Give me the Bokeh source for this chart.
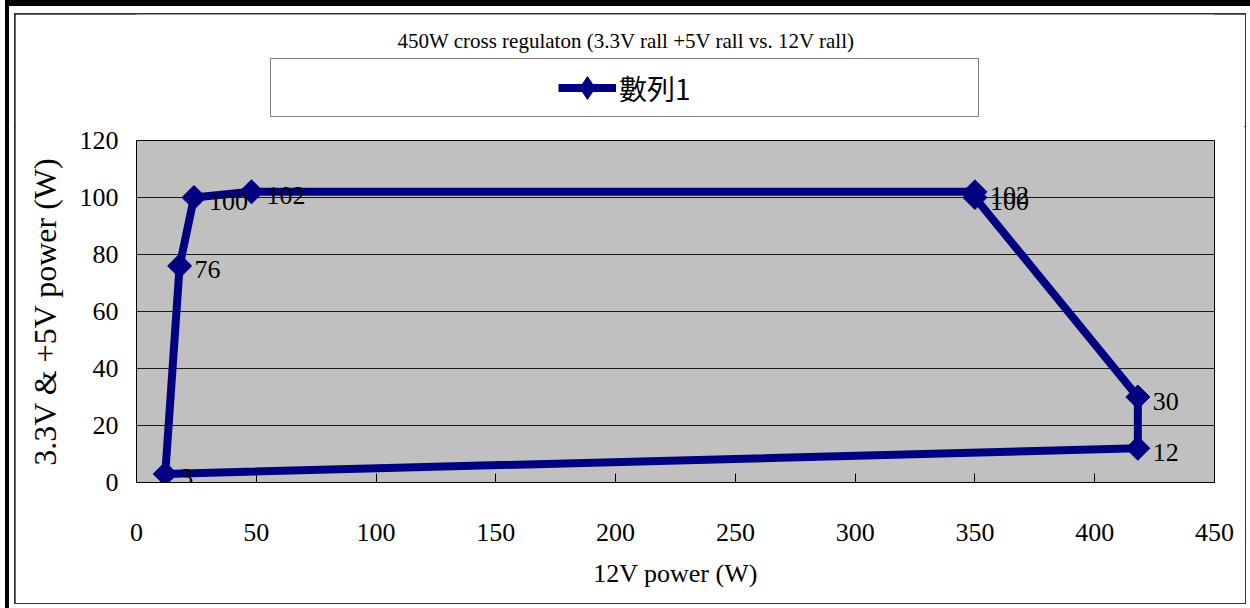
import math
from bokeh.plotting import figure
from bokeh.layouts import column
from bokeh.models import (ColumnDataSource, LabelSet, Label, Legend, LegendItem,
                          Range1d, FixedTicker)
from bokeh.embed import file_html
from bokeh.resources import INLINE

# ---- data ----
title_text = "450W cross regulaton (3.3V rall +5V rall vs. 12V rall)"
series_name = "數列1"
x_label = "12V power (W)"
y_label = "3.3V & +5V power (W)"
x_vals = [12, 18, 24, 48, 350, 350, 418, 418]
y_vals = [3, 76, 100, 102, 102, 100, 30, 12]
point_labels = ["3", "76", "100", "102", "102", "100", "30", "12"]
x_ticks = [0, 50, 100, 150, 200, 250, 300, 350, 400, 450]
y_ticks = [0, 20, 40, 60, 80, 100, 120]

NAVY = "#000080"
SERIF = "Liberation Serif"
LINE_STYLE = dict(line_color=NAVY, line_width=8, line_join="round")
MARK_STYLE = dict(marker="square", angle=math.pi / 4, size=17,
                  fill_color=NAVY, line_color=NAVY)
LEG_MARK_STYLE = dict(marker="diamond", size=28, fill_color=NAVY, line_color=NAVY)

line_src = ColumnDataSource(dict(x=x_vals + [x_vals[0]], y=y_vals + [y_vals[0]]))
pt_src = ColumnDataSource(dict(x=x_vals, y=y_vals, lab=point_labels))

W = 1230
HEAD_H = 112
MAIN_H = 477
BORDER_L = 121
BORDER_R = 31
FRAME_W = W - BORDER_L - BORDER_R

# ---------------- header: title + legend (frame aligned with the chart's frame) ----------------
head = figure(width=W, height=HEAD_H, title=None,
              x_range=Range1d(0, FRAME_W), y_range=Range1d(HEAD_H, 0),
              output_backend="svg", toolbar_location=None,
              x_axis_location=None, y_axis_location=None,
              min_border_left=BORDER_L, min_border_right=BORDER_R,
              min_border_top=0, min_border_bottom=0,
              background_fill_color="white", border_fill_color="white",
              outline_line_color=None)
head.xgrid.visible = False
head.ygrid.visible = False

head.add_layout(Label(x=490, y=26, text=title_text, text_align="center",
                      text_baseline="middle", text_font=SERIF,
                      text_font_size="21px", text_color="black"))

# legend proxies (hidden in the header, only their legend glyphs are drawn)
h_line = head.line(x="x", y="y", source=line_src, visible=False, **LINE_STYLE)
h_pts = head.scatter(x="x", y="y", source=pt_src, visible=False, **LEG_MARK_STYLE)
h_pad1 = head.line(x=[], y=[], line_alpha=0)
h_pad2 = head.line(x=[], y=[], line_alpha=0)

legend = Legend(items=[LegendItem(label=" ", renderers=[h_pad1]),
                       LegendItem(label=series_name, renderers=[h_line, h_pts]),
                       LegendItem(label=" ", renderers=[h_pad2])],
                location=(134, 9), orientation="horizontal",
                padding=0, margin=0, spacing=154,
                border_line_color="black", border_line_width=1,
                background_fill_color="white", background_fill_alpha=1,
                inactive_fill_alpha=0,
                label_text_font="Noto Sans CJK TC", label_text_font_size="28px",
                label_text_color="black",
                glyph_width=58, glyph_height=57, label_standoff=3,
                label_width=72, label_height=30)
head.add_layout(legend, "center")

# ---------------- main chart ----------------
p = figure(width=W, height=MAIN_H, title=None,
           x_range=Range1d(0, 450), y_range=Range1d(0, 120),
           output_backend="svg", toolbar_location=None,
           min_border_left=BORDER_L, min_border_right=BORDER_R,
           min_border_top=14, min_border_bottom=121,
           background_fill_color="#c0c0c0", border_fill_color="white",
           outline_line_color="black", outline_line_width=1)

p.xgrid.grid_line_color = None
p.ygrid.ticker = FixedTicker(ticks=y_ticks)
p.ygrid.grid_line_color = "#1a1a1a"
p.ygrid.grid_line_width = 1

p.xaxis.ticker = FixedTicker(ticks=x_ticks)
p.xaxis.major_tick_in = 9
p.xaxis.major_tick_out = 0
p.xaxis.minor_tick_in = 0
p.xaxis.minor_tick_out = 0
p.xaxis.axis_line_color = "black"
p.xaxis.major_tick_line_color = "black"
p.xaxis.major_label_standoff = 41
p.xaxis.major_label_text_font = SERIF
p.xaxis.major_label_text_font_size = "26px"
p.xaxis.major_label_text_color = "black"
p.xaxis.axis_label = x_label
p.xaxis.axis_label_standoff = 15
p.xaxis.axis_label_text_font = SERIF
p.xaxis.axis_label_text_font_size = "26px"
p.xaxis.axis_label_text_font_style = "normal"
p.xaxis.axis_label_text_color = "black"

p.yaxis.ticker = FixedTicker(ticks=y_ticks)
p.yaxis.major_tick_in = 0
p.yaxis.major_tick_out = 0
p.yaxis.minor_tick_in = 0
p.yaxis.minor_tick_out = 0
p.yaxis.axis_line_color = "black"
p.yaxis.major_label_standoff = 18
p.yaxis.major_label_text_font = SERIF
p.yaxis.major_label_text_font_size = "26px"
p.yaxis.major_label_text_color = "black"
p.yaxis.axis_label = y_label
p.yaxis.axis_label_standoff = 14
p.yaxis.axis_label_text_font = SERIF
p.yaxis.axis_label_text_font_size = "32px"
p.yaxis.axis_label_text_font_style = "normal"
p.yaxis.axis_label_text_color = "black"

p.line(x="x", y="y", source=line_src, **LINE_STYLE)
p.scatter(x="x", y="y", source=pt_src, **MARK_STYLE)

labels = LabelSet(x="x", y="y", text="lab", source=pt_src, x_offset=15, y_offset=-4,
                  text_baseline="middle", text_align="left",
                  text_font=SERIF, text_font_size="26px", text_color="black")
p.add_layout(labels)

layout = column(head, p, spacing=0)
layout.margin = (14, 5, 5, 15)
layout.styles = {
    "outline": "2px solid #333333",
    "outline-offset": "-1px",
    "box-shadow": ("-6px -8px 0 0 white, -6px 5px 0 0 white, 6px -8px 0 0 white, "
                   "-10px -14px 0 0 black, -10px 5px 0 0 black, 5px -14px 0 0 black"),
}

open("out.html", "w", encoding="utf-8").write(file_html(layout, INLINE, title="chart"))
